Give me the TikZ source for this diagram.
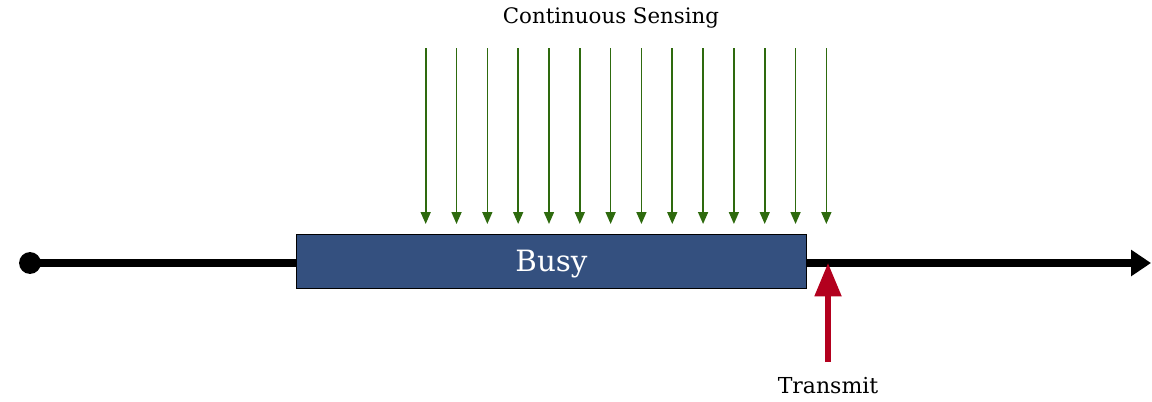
\documentclass[tikz,border=0pt]{standalone}
\usepackage{fontspec}
\setmainfont{DejaVu Serif}
\usepackage{tikz}
\usepackage{xcolor}
\usetikzlibrary{arrows.meta}

\definecolor{busyblue}{HTML}{34507F}
\definecolor{senseg}{HTML}{2E6A0E}
\definecolor{txred}{HTML}{B3001E}

\begin{document}
\begin{tikzpicture}[x=0.75pt,y=-0.75pt]
\useasboundingbox (0,0) rectangle (1152,401);
%% time axis
\coordinate (start) at (30,263);
\coordinate (end) at (1151,263);
\draw[line width=5.4pt,-{Triangle[length=15pt,width=19pt]}] (start) -- (end);
\fill (start) circle (8.2pt);
%% busy period
\node[draw=black,fill=busyblue,line width=0.6pt,minimum width=382pt,minimum height=40pt,
  text height=15.5pt,text depth=0pt,
  text=white,font=\fontsize{22}{26}\selectfont] (busy) at (551.5,261.5) {Busy};
%% sensing arrows
\node[font=\fontsize{16}{19}\selectfont] (sense) at (611,18) {Continuous Sensing};
\foreach \i in {0,...,13}{
  \coordinate (s\i) at (425.7+30.82*\i,48);
  \coordinate (t\i) at (425.7+30.82*\i,224);
  \draw[senseg,line width=1.2pt,-{Triangle[length=9pt,width=7.5pt]}] (s\i) -- (t\i);
}
%% transmit
\node[font=\fontsize{16.5}{19}\selectfont] (tx) at (828,386) {Transmit};
\coordinate (txpt) at (828,263);
\draw[txred,line width=3.8pt,-{Triangle[length=25pt,width=19.5pt]}] (tx.north) ++(0,-11) -- (txpt);
\end{tikzpicture}
\end{document}
